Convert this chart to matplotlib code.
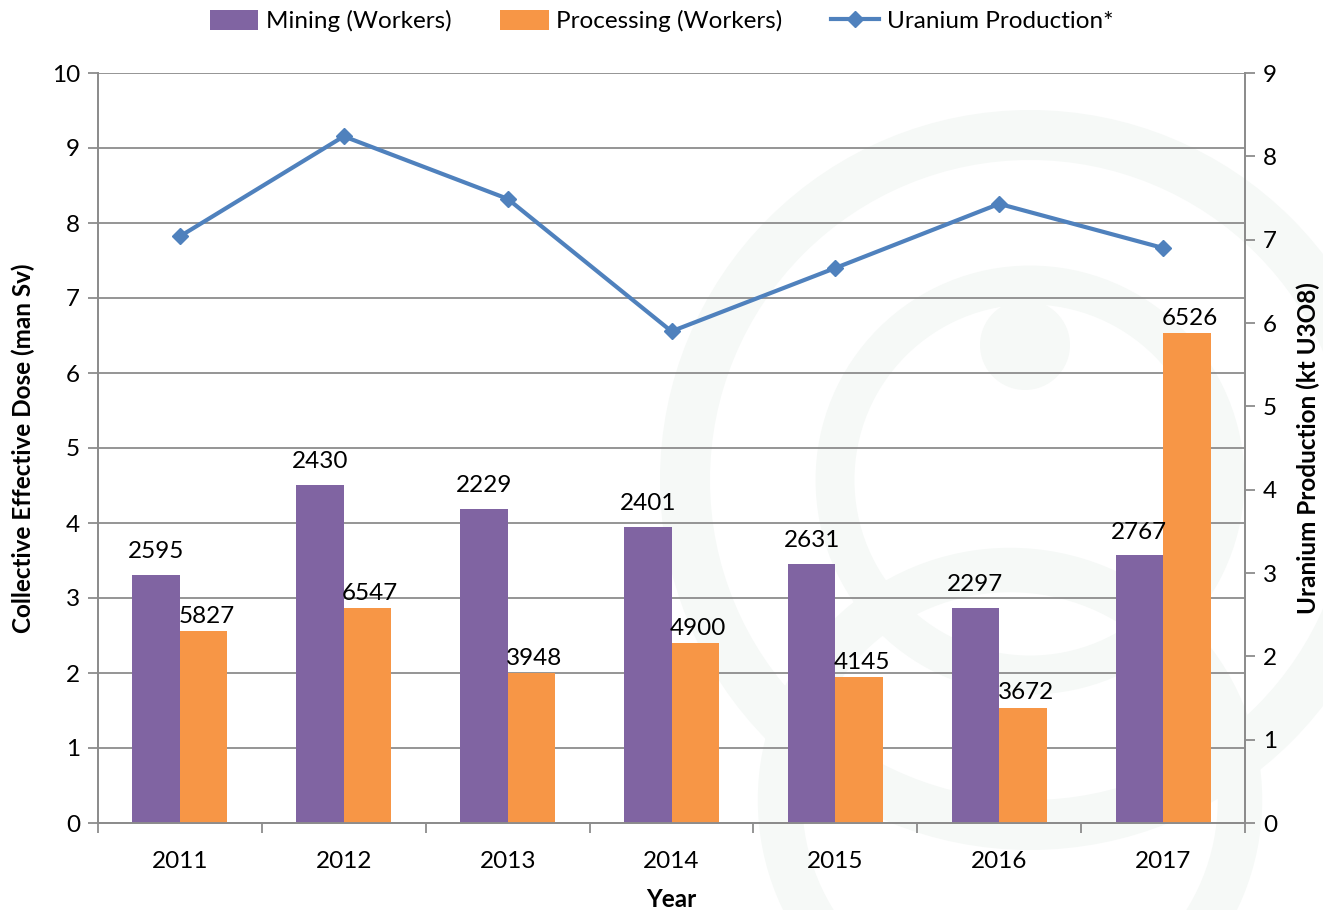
import matplotlib.pyplot as plt
import matplotlib.patches as mpatches
import numpy as np

# ============================================================
# DATA
# ============================================================
years = ["2011", "2012", "2013", "2014", "2015", "2016", "2017"]
mining_dose = [3.31, 4.51, 4.19, 3.95, 3.46, 2.87, 3.57]
processing_dose = [2.56, 2.87, 2.00, 2.40, 1.95, 1.54, 6.53]
mining_workers = [2595, 2430, 2229, 2401, 2631, 2297, 2767]
processing_workers = [5827, 6547, 3948, 4900, 4145, 3672, 6526]
uranium_prod = [7.04, 8.24, 7.49, 5.90, 6.66, 7.43, 6.90]

PURPLE = "#8064A2"
ORANGE = "#F79646"
BLUE = "#4F81BD"
GRID = "#8C8C8C"

plt.rcParams["font.family"] = ["Lato", "DejaVu Sans"]

fig = plt.figure(figsize=(13.23, 9.1), dpi=100)

# faint watermark rings in the background
wm = fig.add_axes([0, 0, 1, 1], zorder=-5)
wm.set_xlim(0, 1323)
wm.set_ylim(910, 0)
wm.axis("off")
wm_col = "#F6F9F7"
wm.add_patch(mpatches.Circle((1030, 480), 345, fill=False, lw=36, ec=wm_col))
wm.add_patch(mpatches.Circle((1030, 480), 195, fill=False, lw=28, ec=wm_col))
wm.add_patch(mpatches.Circle((1025, 345), 45, fc=wm_col, ec="none"))
wm.add_patch(mpatches.Circle((1010, 800), 230, fill=False, lw=32, ec=wm_col))

ax = fig.add_axes([98 / 1323, 1 - 823 / 910, (1245 - 98) / 1323, (823 - 73) / 910])
ax.patch.set_alpha(0)
ax2 = ax.twinx()

x = np.arange(len(years))
w = 0.29

ax.bar(x - w / 2, mining_dose, w, color=PURPLE, label="Mining (Workers)", zorder=3)
ax.bar(x + w / 2, processing_dose, w, color=ORANGE, label="Processing (Workers)", zorder=3)

for i in range(len(years)):
    ax.annotate(str(mining_workers[i]), (x[i] - w / 2, mining_dose[i]),
                xytext=(0, 9), textcoords="offset points",
                ha="center", va="bottom", fontsize=17.5, zorder=5)
    ax.annotate(str(processing_workers[i]), (x[i] + w / 2, processing_dose[i]),
                xytext=(2, 3), textcoords="offset points",
                ha="center", va="bottom", fontsize=17.5, zorder=5)

ax2.plot(x, uranium_prod, color=BLUE, lw=3, marker="D", markersize=8,
         label="Uranium Production*", zorder=4)

ax.set_xlim(-0.5, len(years) - 0.5)
ax.set_ylim(0, 10)
ax2.set_ylim(0, 9)
ax.set_yticks(range(0, 11))
ax2.set_yticks(range(0, 10))

ax.set_xticks(x)
ax.set_xticklabels(years)
ax.set_xticks(np.arange(-0.5, len(years), 1), minor=True)
ax.tick_params(axis="x", which="major", length=0, pad=20, labelsize=17.5)
ax.tick_params(axis="x", which="minor", length=7, color=GRID, width=1.3)
ax.tick_params(axis="y", length=7, color=GRID, width=1.3, labelsize=17.5, pad=6)
ax2.tick_params(axis="y", length=7, color=GRID, width=1.3, labelsize=17.5, pad=6)

ax.grid(axis="y", color=GRID, lw=1.3, zorder=0)
ax.set_axisbelow(True)

for a in (ax, ax2):
    for s in a.spines.values():
        s.set_visible(False)
    for s in ("left", "right", "bottom"):
        a.spines[s].set_visible(True)
        a.spines[s].set_color(GRID)
        a.spines[s].set_linewidth(1.3)

ax.set_xlabel("Year", fontsize=17.5, fontweight="bold", labelpad=12)
ax.set_ylabel("Collective Effective Dose (man Sv)", fontsize=17.5, fontweight="bold", labelpad=12)
ax2.set_ylabel("Uranium Production (kt U3O8)", fontsize=17.5, fontweight="bold", labelpad=14)

h1, l1 = ax.get_legend_handles_labels()
h2, l2 = ax2.get_legend_handles_labels()
fig.legend(h1 + h2, l1 + l2, loc="center", bbox_to_anchor=(0.5, 1 - 21 / 910),
           ncol=3, frameon=False, fontsize=17.5, handlelength=2.0, handleheight=0.9,
           columnspacing=2.0, handletextpad=0.3)

fig.savefig("out.png", dpi=100)
